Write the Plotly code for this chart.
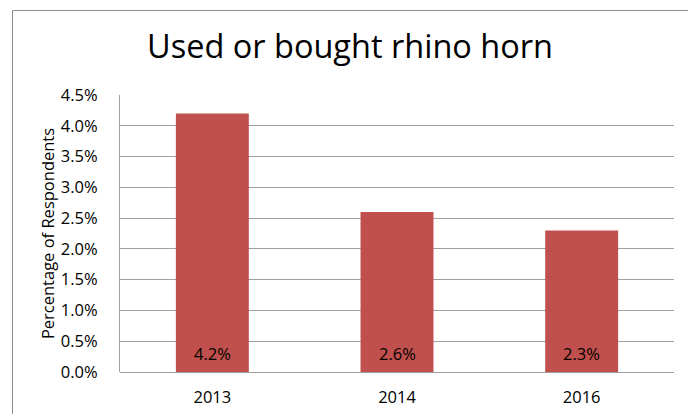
import plotly.graph_objects as go

categories = ["2013", "2014", "2016"]
values = [4.2, 2.6, 2.3]
labels = ["4.2%", "2.6%", "2.3%"]
y_ticks = [0, 0.5, 1.0, 1.5, 2.0, 2.5, 3.0, 3.5, 4.0, 4.5]
y_tick_text = ["0.0%", "0.5%", "1.0%", "1.5%", "2.0%", "2.5%", "3.0%", "3.5%", "4.0%", "4.5%"]

FONT = "'Open Sans', 'Noto Sans', sans-serif"
FS = 16.5

fig = go.Figure(go.Bar(
    x=categories, y=values,
    marker=dict(color="#C0504D", line=dict(width=0)),
    width=0.395,
))

# value labels near the bar base (category index position on the category axis)
for i, lab in enumerate(labels):
    fig.add_annotation(x=i, y=0, text=lab, showarrow=False,
                       yanchor="middle", yshift=19,
                       font=dict(family=FONT, size=FS, color="black"))

# page has an 8px body margin; target screen coordinates are offset by it
OFF = 8
W, H = 696, 414
PL, PR, PT, PB = 120, 674, 95, 372  # plot area in screen px
L, T = PL - OFF, PT - OFF
R = W - (PR - OFF)
B = H - (PB - OFF)
pw, ph = PR - PL, PB - PT

def px_x(x):
    return (x - PL) / pw

def px_y(y):
    return (PB - y) / ph

fig.update_layout(
    width=W, height=H,
    margin=dict(l=L, r=R, t=T, b=B, autoexpand=False),
    paper_bgcolor="white", plot_bgcolor="white",
    showlegend=False,
    font=dict(family=FONT, size=FS, color="black"),
    title=dict(text="Used or bought rhino horn", x=px_x(350), xanchor="center",
               xref="paper", y=1 - (47 - OFF) / H, yanchor="middle", yref="container",
               font=dict(family=FONT, size=32.5, color="black")),
    xaxis=dict(type="category", range=[-0.5, len(categories) - 0.5],
               showgrid=False, showline=False, zeroline=False,
               automargin=False, ticks="", ticklabelstandoff=13,
               tickfont=dict(family=FONT, size=FS, color="black")),
    yaxis=dict(range=[0, 4.5], tickvals=y_ticks, ticktext=y_tick_text,
               automargin=False,
               showgrid=True, gridcolor="#a0a0a0", gridwidth=1,
               showline=True, linecolor="#a0a0a0", linewidth=1,
               zeroline=True, zerolinecolor="#a0a0a0", zerolinewidth=1,
               ticks="", ticklabelstandoff=18,
               tickfont=dict(family=FONT, size=FS, color="black"),
               title=dict(text="Percentage of Respondents", standoff=2,
                          font=dict(family=FONT, size=16.5, color="black"))),
)

fig.add_shape(type="rect", xref="paper", yref="paper",
              x0=px_x(12.5), x1=px_x(693), y0=px_y(430), y1=px_y(10.5),
              line=dict(color="#8c8c8c", width=1), fillcolor="rgba(0,0,0,0)",
              layer="below")

fig.write_html("out.html")
